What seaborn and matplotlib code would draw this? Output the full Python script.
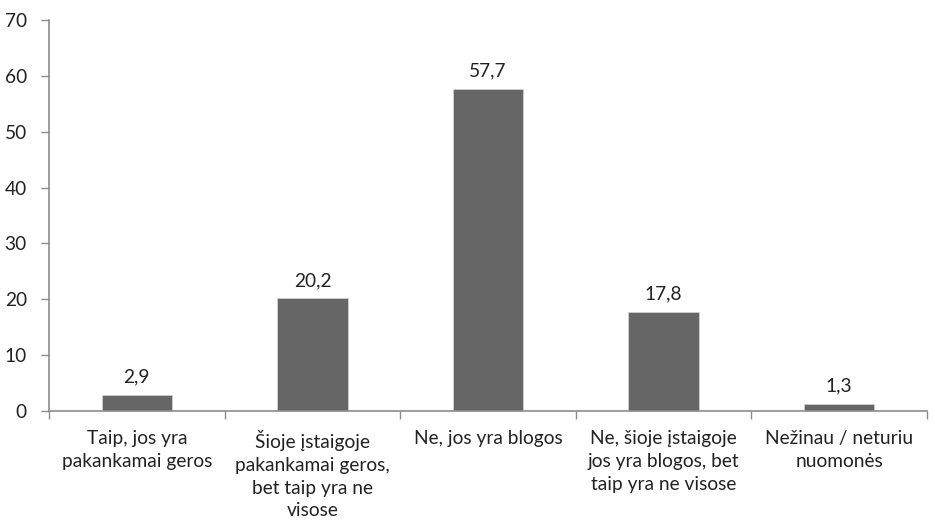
import matplotlib
matplotlib.use("Agg")
import matplotlib.pyplot as plt
import seaborn as sns
import pandas as pd
import numpy as np

categories = [
    "Taip, jos yra\npakankamai geros",
    "Šioje įstaigoje\npakankamai geros,\nbet taip yra ne\nvisose",
    "Ne, jos yra blogos",
    "Ne, šioje įstaigoje\njos yra blogos, bet\ntaip yra ne visose",
    "Nežinau / neturiu\nnuomonės",
]
values = [2.9, 20.2, 57.7, 17.8, 1.3]
value_labels = ["2,9", "20,2", "57,7", "17,8", "1,3"]
y_ticks = [0, 10, 20, 30, 40, 50, 60, 70]

sns.set_theme(style="white")
plt.rcParams["font.family"] = ["Lato", "DejaVu Sans"]

FS = 13.8
fig = plt.figure(figsize=(9.35, 5.24), dpi=100)
ax = fig.add_axes([49/935, 1-411/524, (927-49)/935, (411-20)/524])

df = pd.DataFrame({"cat": categories, "val": values})
sns.barplot(data=df, x="cat", y="val", color="#666666", width=0.4,
            edgecolor="#cfcfcf", linewidth=0.6, saturation=1, ax=ax)

for i, (v, lab) in enumerate(zip(values, value_labels)):
    ax.text(i, v + 1.6, lab, ha="center", va="bottom", fontsize=FS, color="#222222")

ax.set_xlim(-0.5, len(categories) - 0.5)
ax.set_ylim(0, 70)
ax.set_yticks(y_ticks)
ax.set_yticklabels([str(t) for t in y_ticks], fontsize=FS, color="#222222")
ax.set_xlabel("")
ax.set_ylabel("")

ax.set_xticks(np.arange(-0.5, len(categories)))
ax.set_xticklabels([])
ax.set_xticks(np.arange(len(categories)), minor=True)
ax.set_xticklabels(categories, minor=True, fontsize=FS, color="#222222", linespacing=1.4)
ax.tick_params(axis="x", which="major", direction="out", length=6, width=1, color="#8c8c8c", bottom=True)
ax.tick_params(axis="x", which="minor", length=0, pad=14)
ax.tick_params(axis="y", direction="out", length=6, width=1, color="#8c8c8c", left=True, pad=10)

for s in ["top", "right"]:
    ax.spines[s].set_visible(False)
for s in ["left", "bottom"]:
    ax.spines[s].set_color("#8c8c8c")
    ax.spines[s].set_linewidth(1.2)

fig.savefig("out.png", dpi=100)
